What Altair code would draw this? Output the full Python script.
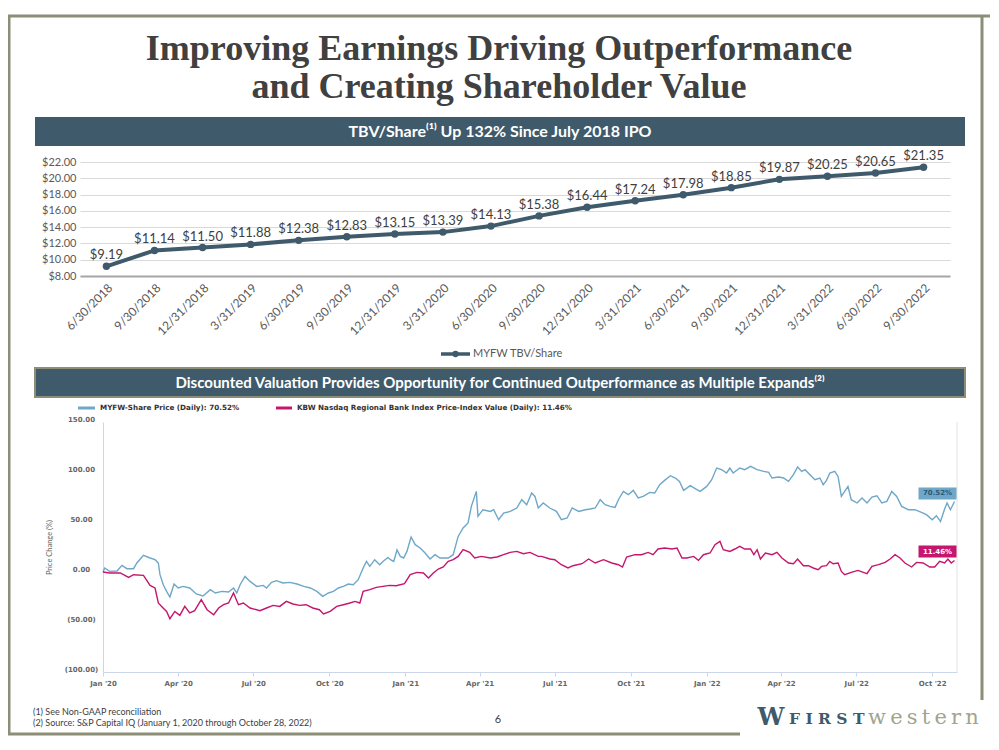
import altair as alt
import pandas as pd

# ---------------- data: TBV / share ----------------
quarters = ["6/30/2018", "9/30/2018", "12/31/2018", "3/31/2019", "6/30/2019", "9/30/2019",
            "12/31/2019", "3/31/2020", "6/30/2020", "9/30/2020", "12/31/2020", "3/31/2021",
            "6/30/2021", "9/30/2021", "12/31/2021", "3/31/2022", "6/30/2022", "9/30/2022"]
tbv_values = [9.19, 11.14, 11.50, 11.88, 12.38, 12.83, 13.15, 13.39, 14.13, 15.38, 16.44,
              17.24, 17.98, 18.85, 19.87, 20.25, 20.65, 21.35]
tbv_ticks = [8, 10, 12, 14, 16, 18, 20, 22]

# ---------------- data: price change (days since 2020-01-01, % change) ----------------
myfw_days = [0, 2, 8, 17, 23, 29, 37, 41, 49, 57, 63, 67, 69, 73, 77, 81, 86, 91, 97, 105, 113, 121,
             130, 136, 144, 152, 158, 162, 166, 172, 178, 186, 194, 198, 204, 210, 218, 226, 235,
             243, 251, 259, 266, 273, 279, 285, 291, 297, 303, 309, 315, 319, 323, 329, 335, 339,
             345, 348, 352, 356, 360, 364, 368, 373, 378, 384, 390, 396, 402, 408, 418, 424, 430,
             436, 442, 446, 452, 454, 460, 469, 473, 479, 485, 493, 501, 507, 513, 519, 523, 527,
             533, 541, 549, 555, 562, 568, 576, 584, 590, 596, 602, 608, 614, 620, 624, 630, 636,
             642, 648, 654, 662, 668, 674, 680, 687, 693, 698, 703, 711, 719, 723, 731, 737, 743,
             749, 755, 759, 763, 771, 777, 784, 792, 800, 806, 810, 818, 824, 830, 836, 841, 846,
             850, 856, 862, 868, 872, 876, 880, 886, 890, 894, 898, 902, 906, 913, 919, 925, 931,
             937, 943, 949, 955, 961, 967, 975, 983, 991, 997, 1004, 1009, 1014, 1019, 1022, 1026,
             1031]
myfw_pct = [0, 4, 0.6, 1, 6.6, 3.3, 3.3, 9, 16.6, 14, 12.3, 9, -2.7, -12.7, -19.4, -25, -12, -16,
            -14.4, -16, -22, -24, -17.7, -21, -19.4, -20, -16, -21, -12.7, -4.4, -9.4, -14.4, -13.4,
            -16, -10.4, -8.7, -11, -10.4, -12, -14.4, -16, -19.4, -24.4, -21, -19.4, -16, -14.4, -12,
            -12.7, -7.7, 4, 10.6, 5.6, 12.3, 7.3, 10.6, 14.6, 12.3, 10.6, 22, 15.6, 14, 20.6, 35,
            27.3, 24, 19, 13, 17.3, 14, 14, 17.3, 35.6, 44, 49, 65.6, 80.6, 55.6, 62.3, 60.6, 62.3,
            52.3, 59, 60.6, 64, 72.3, 67.3, 79, 75.6, 64, 69, 64, 60.6, 52.3, 54, 64, 60.6, 62.3, 63,
            64, 72.3, 67.3, 65.6, 64.6, 72.3, 80.6, 77.3, 81.6, 74, 75.6, 79.6, 79, 87.3, 91.6, 96.3,
            94, 90.6, 81.6, 86.3, 82.3, 80.6, 85.6, 92.3, 104, 102.3, 99, 104, 99, 104, 102.3, 105.6,
            102.3, 100.6, 99.6, 94, 95, 94, 90.6, 97.3, 105, 100.6, 102.3, 97.3, 92.3, 94, 87.3,
            91.6, 99, 100.6, 95.6, 75.6, 80.6, 85.6, 72.3, 69, 74, 69, 75, 76.3, 69, 70.6, 80.6,
            75.6, 65.6, 62.3, 62.3, 59.6, 57.3, 52.3, 56.3, 50.6, 63, 69, 62.3, 70.52]
kbw_days = [0, 8, 21, 31, 37, 49, 57, 63, 67, 71, 77, 81, 87, 93, 99, 105, 111, 119, 126, 134, 140,
            146, 152, 158, 164, 170, 178, 190, 198, 206, 214, 222, 230, 238, 246, 254, 262, 267,
            275, 283, 291, 299, 305, 311, 315, 323, 331, 339, 347, 355, 365, 372, 380, 388, 394,
            400, 406, 412, 418, 424, 430, 436, 444, 450, 458, 469, 477, 485, 493, 501, 509, 517,
            527, 531, 541, 547, 555, 563, 569, 580, 588, 596, 606, 616, 624, 629, 634, 644, 652,
            660, 666, 672, 680, 689, 695, 701, 707, 715, 721, 727, 735, 741, 747, 751, 759, 765,
            771, 777, 784, 788, 792, 796, 802, 810, 816, 822, 830, 836, 841, 848, 854, 860, 866,
            870, 876, 880, 884, 890, 894, 898, 906, 914, 925, 931, 939, 947, 953, 959, 965, 971,
            979, 985, 993, 1001, 1007, 1013, 1019, 1023, 1027, 1031]
kbw_pct = [0, -1, -1, -5.4, -2.7, -3.4, -13.4, -16, -31, -34.4, -39.4, -46.7, -39.4, -43.4, -34.4,
           -41, -38.7, -27.7, -37.7, -42.7, -36, -32.7, -31, -21, -32.7, -31, -36, -38.7, -36, -33.4,
           -34.4, -29.4, -32, -33.4, -32.7, -36, -37.7, -42, -39.4, -34.4, -32.7, -31, -29.4, -31,
           -19.4, -17.7, -15.4, -14.4, -13.4, -13.7, -11.7, -2.7, -0.4, -1, -6, -1, 3, 5, 10.6,
           12.3, 15.6, 22.3, 19.6, 14, 15.6, 14, 15, 17.3, 19.6, 20.6, 18.3, 19.6, 15.6, 15.6, 13,
           12.3, 7.3, 4, 6.3, 8.3, 13, 9, 12.3, 9, 7.3, 5, 15, 17.3, 17.3, 19.6, 17.3, 23, 24, 23,
           24, 14, 14, 15.6, 11.6, 17.3, 19, 27.3, 30.6, 22.3, 20.6, 23, 25.6, 23, 23, 17.3, 22.3,
           13, 19, 17.3, 19.6, 14, 9, 8.3, 13, 6.3, 6.3, 4, 2.3, 5.6, 6.3, 10.6, 8.3, 9, 0.6, -2.7,
           -0.4, 1.6, -1.7, 5.6, 7.3, 9.6, 13, 17.3, 14, 9, 5, 9.6, 9, 5, 5, 10.6, 9, 13, 9, 11.46]
price_ticks = [-100, -50, 0, 50, 100, 150]
quarter_ticks = [(2020, 1), (2020, 4), (2020, 7), (2020, 10), (2021, 1), (2021, 4), (2021, 7),
                 (2021, 10), (2022, 1), (2022, 4), (2022, 7), (2022, 10)]
series_names = ["MYFW-Share Price (Daily)",
                "KBW Nasdaq Regional Bank Index Price-Index Value (Daily)"]

# ---------------- styles ----------------
SLATE = "#3e5a6b"
BORDER = "#8c8e77"
BLUE = "#6ea7c8"
MAGENTA = "#c4166c"
FONT = "Lato"
WIDE = "DejaVu Sans"

start = pd.Timestamp("2020-01-01")


def to_dates(days):
    return [(start + pd.Timedelta(days=d)).strftime("%Y-%m-%d") for d in days]


one = pd.DataFrame({"k": [0]})


def rule(x, x2, y, y2, color, w):
    return alt.Chart(one).mark_rule(color=color, strokeWidth=w).encode(
        x=alt.value(x), x2=alt.value(x2), y=alt.value(y), y2=alt.value(y2))


def label(t, x, y, **kw):
    return alt.Chart(one).mark_text(text=t, **kw).encode(x=alt.value(x), y=alt.value(y))


def box(x, x2, y, y2, **kw):
    return alt.Chart(one).mark_rect(**kw).encode(
        x=alt.value(x), x2=alt.value(x2), y=alt.value(y), y2=alt.value(y2))


# ---------------- decorations (slide frame, titles, banners) ----------------
deco = [
    rule(0, 982, 8, 8, BORDER, 3),
    rule(1, 1, 8, 727, BORDER, 3),
    rule(974, 974, 8, 692, BORDER, 3),
    rule(0, 732, 726, 726, BORDER, 3),
    label("Improving Earnings Driving Outperformance", 491, 41, font="Liberation Serif",
          fontSize=36, fontWeight="bold", color="#404040", align="center", baseline="middle"),
    label("and Creating Shareholder Value", 491, 79, font="Liberation Serif",
          fontSize=36, fontWeight="bold", color="#404040", align="center", baseline="middle"),
    box(27, 957, 109, 138, color=SLATE),
    label("TBV/Share\u207d\u00b9\u207e Up 132% Since July 2018 IPO", 492, 123.5, font=FONT,
          fontSize=16, fontWeight="bold", color="white", align="center", baseline="middle"),
    box(27, 957, 360, 389, color=SLATE, stroke=BORDER, strokeWidth=2),
    label("Discounted Valuation Provides Opportunity for Continued Outperformance as Multiple Expands\u207d\u00b2\u207e",
          492, 375, font=FONT, fontSize=15, fontWeight="bold", color="white", align="center",
          baseline="middle"),
    # legend of the TBV chart
    rule(433, 462, 346, 346, SLATE, 3.5),
    alt.Chart(one).mark_point(filled=True, color=SLATE, size=40, opacity=1).encode(
        x=alt.value(447.5), y=alt.value(346)),
    label("MYFW TBV/Share", 465, 346, font=FONT, fontSize=11, color="#595959", align="left",
          baseline="middle"),
    # legend of the price chart
    rule(70, 87, 400, 400, BLUE, 3),
    label(f"{series_names[0]}: {myfw_pct[-1]:.2f}%", 92, 400, font=WIDE, fontSize=7.2,
          fontWeight="bold", color="#333333", align="left", baseline="middle"),
    rule(268, 284, 400, 400, MAGENTA, 3),
    label(f"{series_names[1]}: {kbw_pct[-1]:.2f}%", 289, 400, font=WIDE, fontSize=7.2,
          fontWeight="bold", color="#333333", align="left", baseline="middle"),
    rule(949, 949, 414, 664, "#e3e3e3", 1),
    # footnotes and page number
    label("(1) See Non-GAAP reconciliation", 25, 703.5, font=FONT, fontSize=9, color="#404040",
          align="left", baseline="middle"),
    label("(2) Source: S&P Capital IQ (January 1, 2020 through October 28, 2022)", 25, 715,
          font=FONT, fontSize=9, color="#404040", align="left", baseline="middle"),
    label("6", 490, 712, font=FONT, fontSize=11, color="#404040", align="center",
          baseline="middle"),
    # logo
    label("W", 763, 717, font="DejaVu Serif", fontSize=24, fontWeight="bold", color=SLATE,
          align="center", baseline="alphabetic"),
    label("F I R S T", 781, 716, font="DejaVu Serif", fontSize=15.5,
          fontWeight="bold", color=SLATE, align="left", baseline="alphabetic"),
    label("w\u2009e\u2009s\u2009t\u2009e\u2009r\u2009n", 860, 716, font="DejaVu Serif",
          fontSize=21, color="#a2a48e", align="left", baseline="alphabetic"),
]

# ---------------- TBV chart ----------------
tbv_df = pd.DataFrame({"quarter": quarters, "tbv": tbv_values})
xq = alt.X("quarter:N", sort=quarters,
           scale=alt.Scale(type="point", range=[72, 942], padding=0.55),
           axis=alt.Axis(orient="bottom", offset=-466, labelAngle=-45, labelFont=FONT,
                         labelFontSize=12, labelColor="#595959", domainColor="#a6a6a6",
                         domainWidth=2, ticks=False, labelPadding=6, labelOverlap=False,
                         grid=False, title=None))
yq = alt.Y("tbv:Q", scale=alt.Scale(domain=[8, 22], range=[268, 154], zero=False, nice=False),
           axis=alt.Axis(orient="left", offset=-72, values=tbv_ticks, format="$.2f",
                         labelFont=FONT, labelFontSize=11, labelColor="#595959", domain=False,
                         ticks=False, labelPadding=4, gridColor="#d9d9d9", labelFlush=False,
                         title=None))
tbv_base = alt.Chart(tbv_df).encode(x=xq, y=yq)
tbv_chart = alt.layer(
    tbv_base.mark_line(color=SLATE, strokeWidth=4),
    tbv_base.mark_point(filled=True, color=SLATE, size=55, opacity=1),
    tbv_base.mark_text(dy=-11, font=FONT, fontSize=13, color="#404040").encode(
        text=alt.Text("tbv:Q", format="$.2f")),
)

# ---------------- price chart ----------------
price_df = pd.concat([
    pd.DataFrame({"date": to_dates(myfw_days), "pct": myfw_pct, "series": series_names[0]}),
    pd.DataFrame({"date": to_dates(kbw_days), "pct": kbw_pct, "series": series_names[1]}),
], ignore_index=True)
last_df = pd.DataFrame({"date": to_dates([myfw_days[-1], kbw_days[-1]]),
                        "pct": [myfw_pct[-1], kbw_pct[-1]],
                        "series": series_names,
                        "lab": [f"{myfw_pct[-1]:.2f}%", f"{kbw_pct[-1]:.2f}%"]})

xd = alt.X("date:T",
           scale=alt.Scale(type="utc", range=[95, 949],
                           domain=[alt.DateTime(year=2020, month=1, date=1, utc=True),
                                   alt.DateTime(year=2022, month=10, date=31, utc=True)]),
           axis=alt.Axis(orient="bottom", offset=-70,
                         values=[alt.DateTime(year=y, month=m, date=1, utc=True)
                                 for y, m in quarter_ticks],
                         labelExpr="utcFormat(datum.value, \"%b '%y\")", labelFont=WIDE,
                         labelFontSize=7, labelFontWeight="bold", labelColor="#666666",
                         labelFlush=False, domainColor="#ccd6eb", tickColor="#ccd6eb",
                         tickSize=4, labelPadding=3, grid=False, title=None))
yd = alt.Y("pct:Q", scale=alt.Scale(domain=[-100, 150], range=[664, 414], zero=False, nice=False),
           axis=alt.Axis(orient="left", offset=-95, values=price_ticks,
                         labelExpr="datum.value < 0 ? '(' + format(-datum.value, '.2f') + ')' : format(datum.value, '.2f')",
                         labelAlign="center", labelBaseline="bottom", labelPadding=22,
                         labelFont=WIDE, labelFontSize=7, labelFontWeight="bold",
                         labelColor="#666666", labelFlush=False, ticks=False,
                         domainColor="#ccd6eb", gridColor="#e6e6e6",
                         title="Price Change (%)", titleFont=FONT, titleFontSize=7.5,
                         titleFontWeight="normal", titleColor="#666666", titleX=-50))

price_chart = alt.layer(
    alt.Chart(price_df).mark_line(strokeWidth=1.4).encode(
        x=xd, y=yd,
        color=alt.Color("series:N", scale=alt.Scale(domain=series_names, range=[BLUE, MAGENTA]),
                        legend=None)),
    alt.Chart(last_df.iloc[[0]]).mark_rect(width=38, height=12, xOffset=-17, yOffset=-8,
                                           color=BLUE).encode(x=xd, y=yd),
    alt.Chart(last_df.iloc[[1]]).mark_rect(width=38, height=12, xOffset=-17, yOffset=-9,
                                           color=MAGENTA).encode(x=xd, y=yd),
    alt.Chart(last_df.iloc[[0]]).mark_text(xOffset=-17, yOffset=-8, font=WIDE, fontSize=7,
                                           fontWeight="bold", color="#2c5a78").encode(
        x=xd, y=yd, text="lab:N"),
    alt.Chart(last_df.iloc[[1]]).mark_text(xOffset=-17, yOffset=-9, font=WIDE, fontSize=7,
                                           fontWeight="bold", color="white").encode(
        x=xd, y=yd, text="lab:N"),
)

chart = alt.layer(*deco, tbv_chart, price_chart).resolve_scale(
    x="independent", y="independent", color="independent"
).resolve_axis(x="independent", y="independent").properties(
    width=983, height=734, autosize=alt.AutoSizeParams(type="none"), padding=0,
    background="white"
).configure_view(strokeWidth=0)

chart.save("out.html", embed_options={"renderer": "svg", "actions": False})
